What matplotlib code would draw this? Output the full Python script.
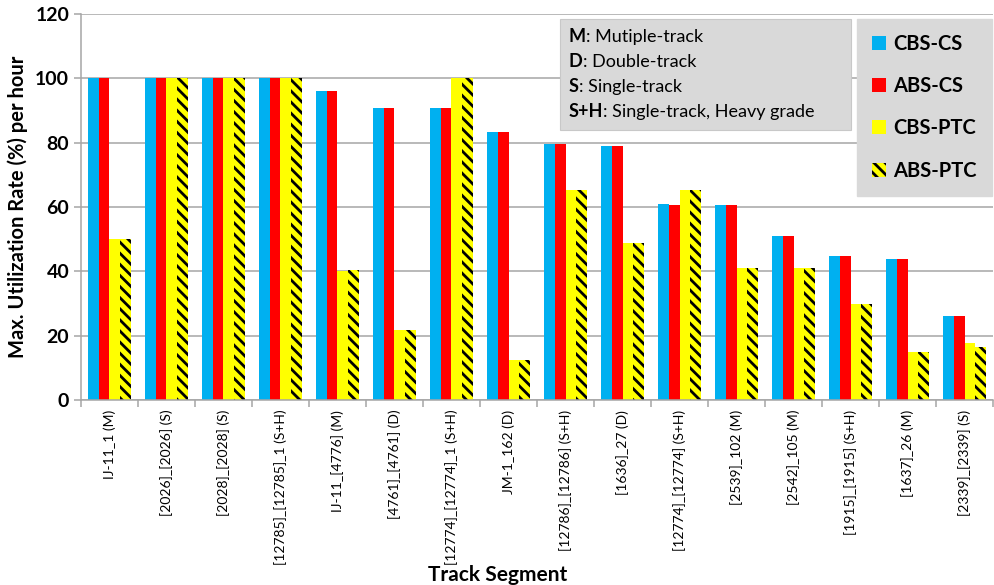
import numpy as np
import matplotlib.pyplot as plt
from matplotlib.patches import Rectangle

plt.rcParams['font.family'] = ['Lato', 'DejaVu Sans']
plt.rcParams['hatch.linewidth'] = 2.0

segments = ['IJ-11_1 (M)', '[2026]_[2026] (S)', '[2028]_[2028] (S)',
            '[12785]_[12785]_1 (S+H)', 'IJ-11_[4776] (M)', '[4761]_[4761] (D)',
            '[12774]_[12774]_1 (S+H)', 'JM-1_162 (D)', '[12786]_[12786] (S+H)',
            '[1636]_27 (D)', '[12774]_[12774] (S+H)', '[2539]_102 (M)',
            '[2542]_105 (M)', '[1915]_[1915] (S+H)', '[1637]_26 (M)',
            '[2339]_[2339] (S)']

cbs_cs = [100, 100, 100, 100, 96, 90.8, 90.8, 83.2, 79.6, 79.0, 61.0, 60.8, 51.1, 44.7, 43.9, 26.0]
abs_cs = [100, 100, 100, 100, 96, 90.8, 90.8, 83.2, 79.6, 79.0, 60.5, 60.8, 51.1, 44.7, 43.9, 26.0]
cbs_ptc = [50, 100, 100, 100, 40, 21.8, 100, 12.6, 65.2, 48.8, 65.2, 41, 41, 30, 15, 17.8]
abs_ptc = [50, 100, 100, 100, 40.4, 21.8, 100, 12.6, 65.2, 48.8, 65.2, 41, 41, 30, 15, 16.4]

series = ['CBS-CS', 'ABS-CS', 'CBS-PTC', 'ABS-PTC']

fig = plt.figure(figsize=(9.95, 5.85), dpi=100)
ax = fig.add_axes([0.0814, 0.316, 0.9166, 0.66])

x = np.arange(len(segments))
w = 0.188
offs = [-1.5 * w, -0.5 * w, 0.5 * w, 1.5 * w]
ax.bar(x + offs[0], cbs_cs, w, color='#00B0F0', label=series[0], zorder=2)
ax.bar(x + offs[1], abs_cs, w, color='#FF0000', label=series[1], zorder=2)
ax.bar(x + offs[2], cbs_ptc, w, color='#FFFF00', label=series[2], zorder=2)
ax.bar(x + offs[3], abs_ptc, w, facecolor='#FFFF00', edgecolor='black', linewidth=0,
       hatch='\\\\\\', label=series[3], zorder=2)

ax.set_xlim(-0.5, len(segments) - 0.5)
ax.set_ylim(0, 120)
ax.set_yticks(range(0, 121, 20))
ax.yaxis.grid(True, color='#A6A6A6', linewidth=1.1, zorder=0)
ax.set_axisbelow(True)
for s in ['top', 'right']:
    ax.spines[s].set_visible(False)
for s in ['left', 'bottom']:
    ax.spines[s].set_color('#A6A6A6')
    ax.spines[s].set_linewidth(1.1)

ax.set_xticks(x)
ax.set_xticklabels(segments, rotation=90, fontsize=10)
ax.set_xticks(np.arange(-0.5, len(segments)), minor=True)
ax.tick_params(axis='x', which='major', length=0, pad=7)
ax.tick_params(axis='x', which='minor', length=5, color='#A6A6A6', width=1.1)
ax.tick_params(axis='y', length=5, color='#A6A6A6', width=1.1, labelsize=14)
for t in ax.get_yticklabels():
    t.set_fontweight('bold')

ax.set_ylabel('Max. Utilization Rate (%) per hour', fontsize=14.5, fontweight='bold', labelpad=5)
fig.text(0.5, 0.0, 'Track Segment', ha='center', va='bottom', fontsize=15, fontweight='bold')

# series legend
leg = ax.legend(loc='upper left', bbox_to_anchor=(0.851, 0.987), frameon=True, fancybox=False,
                facecolor='#D9D9D9', edgecolor='#D9D9D9', framealpha=1,
                handlelength=0.7, handleheight=0.7, handletextpad=0.35,
                labelspacing=1.1, borderpad=0.75, borderaxespad=0,
                prop={'weight': 'bold', 'size': 14.5})
leg.set_zorder(5)

# track type key box
ax.add_patch(Rectangle((0.525, 0.699), 0.319, 0.288, transform=ax.transAxes,
                       facecolor='#D9D9D9', edgecolor='#C8C8C8', linewidth=0.8, zorder=4))
key_bold = ['M', 'D', 'S', 'S+H']
key_text = [': Mutiple-track', ': Double-track', ': Single-track', ': Single-track, Heavy grade']
for i in range(len(key_bold)):
    y = 0.943 - i * 0.065
    tb = ax.text(0.535, y, key_bold[i], transform=ax.transAxes, fontsize=13,
                 fontweight='bold', va='center', zorder=6)
    ax.annotate(key_text[i], xy=(1, 0), xycoords=tb, va='bottom', ha='left',
                fontsize=13, zorder=6)

fig.savefig('out.png', dpi=100)
